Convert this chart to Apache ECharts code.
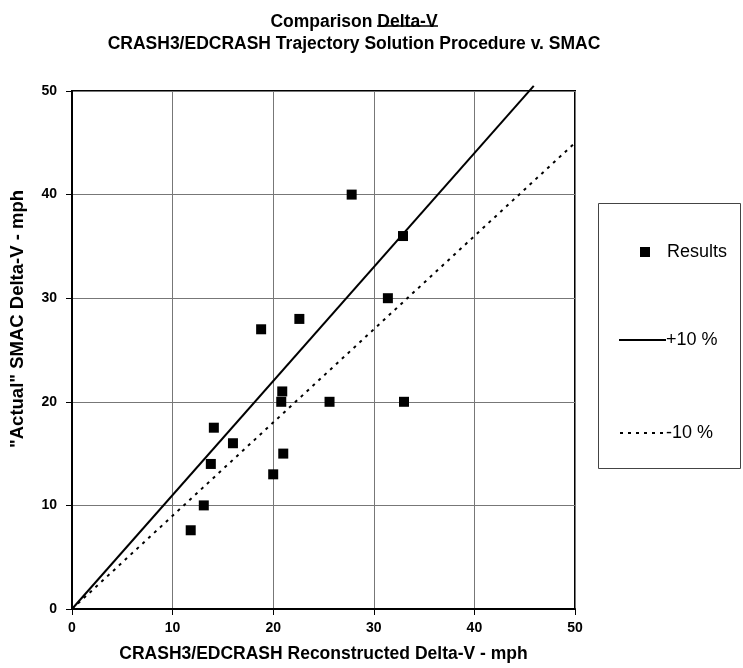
<!DOCTYPE html>
<html><head><meta charset="utf-8">
<script src="https://cdn.jsdelivr.net/npm/echarts@6/dist/echarts.min.js"></script>
<style>html,body{margin:0;padding:0;background:#fff}#c{width:743px;height:668px}</style>
</head><body><div id="c"></div>
<script>
const resultsX = [27.8, 32.9, 31.4, 22.6, 18.8, 20.9, 20.8, 25.6, 33.0, 14.1, 16.0, 21.0, 13.8, 20.0, 13.1, 11.8];
const resultsY = [40.0, 36.0, 30.0, 28.0, 27.0, 21.0, 20.0, 20.0, 20.0, 17.5, 16.0, 15.0, 14.0, 13.0, 10.0, 7.6];
const plusX = [0, 45.9];
const plusY = [0, 50.5];
const minusX = [0, 50];
const minusY = [0, 45];
const ticks = [0, 10, 20, 30, 40, 50];

const F = "'Liberation Sans', Arial, sans-serif";
const zip = (a, b) => a.map((v, i) => [v, b[i]]);
const chart = echarts.init(document.getElementById('c'));
chart.setOption({
  animation: false,
  backgroundColor: '#fff',
  textStyle: { fontFamily: F },
  title: {
    text: 'Comparison Delta-V\nCRASH3/EDCRASH Trajectory Solution Procedure v. SMAC',
    left: 349, top: 6, textAlign: 'center',
    textStyle: { fontFamily: F, fontWeight: 'bold', fontSize: 17.5, lineHeight: 22, color: '#000' }
  },
  graphic: [
    { type: 'line', shape: { x1: 377, y1: 26, x2: 438, y2: 26 }, style: { stroke: '#000', lineWidth: 1.3 } },
    { type: 'rect', shape: { x: 598.5, y: 203.5, width: 142, height: 265 }, style: { fill: 'none', stroke: '#444', lineWidth: 1 } },
    { type: 'text', x: 18, y: 319, rotation: Math.PI / 2,
      style: { text: '"Actual" SMAC Delta-V - mph', font: "bold 18.5px 'Liberation Sans', Arial, sans-serif",
        fill: '#000', align: 'center', verticalAlign: 'middle' } }
  ],
  legend: [
    { data: ['Results'], left: 635, top: 238, itemWidth: 10, itemHeight: 10, itemGap: 10,
      itemStyle: { opacity: 1 },
      textStyle: { fontFamily: F, fontSize: 18, color: '#000', padding: [0, 0, 0, 12] } },
    { data: ['+10 %'], left: 613, top: 326, itemWidth: 47, itemHeight: 14, itemStyle: { opacity: 0 },
      textStyle: { fontFamily: F, fontSize: 18, color: '#000', padding: [0, 0, 0, -5] } },
    { data: ['-10 %'], left: 614, top: 419, itemWidth: 46, itemHeight: 14, itemStyle: { opacity: 0 },
      textStyle: { fontFamily: F, fontSize: 18, color: '#000', padding: [0, 0, 0, -5] } }
  ],
  grid: { left: 72, right: 168, top: 91, bottom: 59, show: true, borderColor: '#000', borderWidth: 2 },
  xAxis: {
    type: 'value', min: 0, max: 50, interval: 10,
    name: 'CRASH3/EDCRASH Reconstructed Delta-V - mph', nameLocation: 'middle', nameGap: 36,
    nameTextStyle: { fontFamily: F, fontWeight: 'bold', fontSize: 17.5, color: '#000' },
    axisLine: { lineStyle: { color: '#000', width: 2 } },
    axisTick: { show: true, length: 6, lineStyle: { color: '#000' } },
    axisLabel: { fontFamily: F, fontWeight: 'bold', fontSize: 14, color: '#000', margin: 12 },
    splitLine: { lineStyle: { color: '#777', width: 1 } }
  },
  yAxis: {
    type: 'value', min: 0, max: 50, interval: 10,
    axisLine: { lineStyle: { color: '#000', width: 2 } },
    axisTick: { show: true, length: 6, lineStyle: { color: '#000' } },
    axisLabel: { fontFamily: F, fontWeight: 'bold', fontSize: 14, color: '#000', margin: 15 },
    splitLine: { lineStyle: { color: '#777', width: 1 } }
  },
  series: [
    { name: 'Results', type: 'scatter', data: zip(resultsX, resultsY), symbol: 'rect', symbolSize: 10,
      itemStyle: { color: '#000', opacity: 1 }, z: 5 },
    { name: '+10 %', type: 'line', data: zip(plusX, plusY), symbol: 'none', clip: false,
      lineStyle: { color: '#000', width: 2 }, itemStyle: { color: '#000' } },
    { name: '-10 %', type: 'line', data: zip(minusX, minusY), symbol: 'none',
      lineStyle: { color: '#000', width: 2, type: [3, 5] }, itemStyle: { color: '#000' } }
  ]
});
</script></body></html>
